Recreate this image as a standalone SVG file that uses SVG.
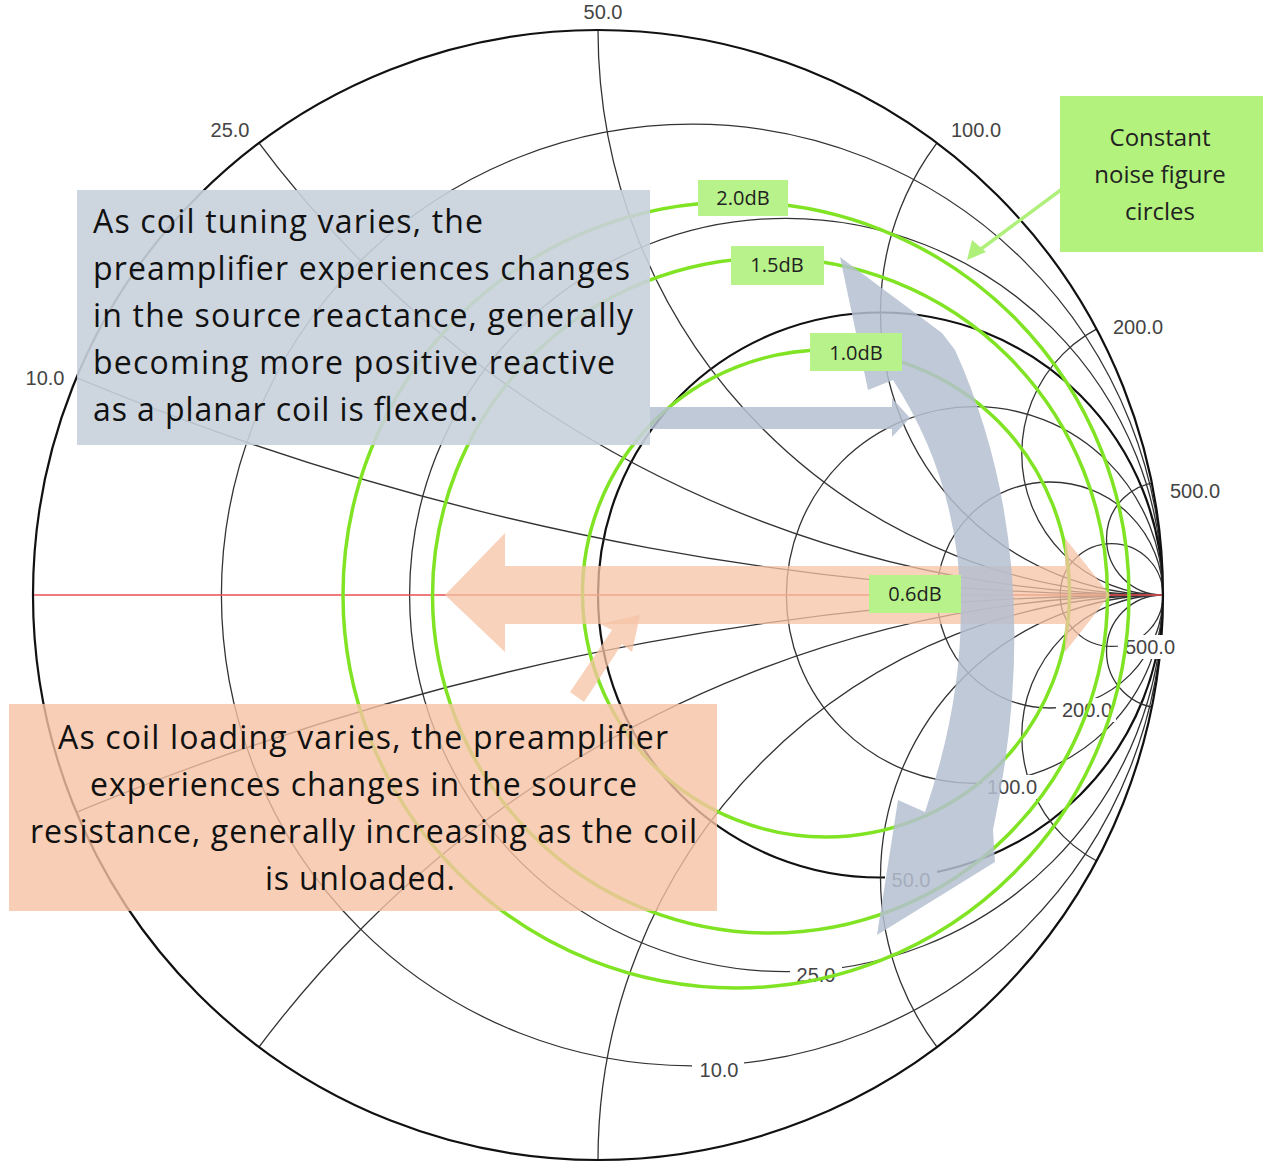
<svg xmlns="http://www.w3.org/2000/svg" width="1270" height="1170" viewBox="0 0 1270 1170">
<style>
.g{fill:none;stroke:#333;stroke-width:1.3}
.k{fill:none;stroke:#111;stroke-width:2.2}
.nf{fill:none;stroke:#80e424;stroke-width:3.5}
.lab{font-family:"Liberation Sans",Arial,sans-serif;font-size:20px;fill:#444}
.big{font-family:"Open Sans","Liberation Sans",sans-serif;font-size:32px;fill:#111}
.db{font-family:"Open Sans","Liberation Sans",sans-serif;font-size:20px;fill:#222;text-anchor:middle}
.tag{fill:#b8f28a}
</style>
<defs>
<clipPath id="sc"><circle cx="598" cy="595" r="565"/></clipPath>
</defs>
<rect width="1270" height="1170" fill="#fff"/>
<g id="chart">
<g clip-path="url(#sc)">
<circle class="g" cx="692.2" cy="595" r="470.8"/>
<circle class="g" cx="786.3" cy="595" r="376.7"/>
<circle class="k" cx="880.5" cy="595" r="282.5"/>
<circle class="g" cx="974.7" cy="595" r="188.3"/>
<circle class="g" cx="1050" cy="595" r="113"/>
<circle class="g" cx="1111.6" cy="595" r="51.4"/>
<circle class="g" cx="1163" cy="-2230" r="2825"/>
<circle class="g" cx="1163" cy="3420" r="2825"/>
<circle class="g" cx="1163" cy="-535" r="1130"/>
<circle class="g" cx="1163" cy="1725" r="1130"/>
<circle class="g" cx="1163" cy="30" r="565"/>
<circle class="g" cx="1163" cy="1160" r="565"/>
<circle class="g" cx="1163" cy="312.5" r="282.5"/>
<circle class="g" cx="1163" cy="877.5" r="282.5"/>
<circle class="g" cx="1163" cy="453.75" r="141.25"/>
<circle class="g" cx="1163" cy="736.25" r="141.25"/>
<circle class="g" cx="1163" cy="538.5" r="56.5"/>
<circle class="g" cx="1163" cy="651.5" r="56.5"/>
</g>
<line x1="33" y1="595" x2="1163" y2="595" stroke="#e85050" stroke-width="1.5"/>
<circle class="k" cx="598" cy="595" r="565"/>
<g fill="#fff">
<rect x="692" y="1058" width="52" height="24"/>
<rect x="790" y="963" width="52" height="24"/>
<rect x="885" y="868" width="52" height="24"/>
<rect x="982" y="775" width="60" height="24"/>
<rect x="1056" y="698" width="60" height="24"/>
<rect x="1118" y="635" width="60" height="24"/>
</g>
<g class="lab">
<text x="603" y="19" text-anchor="middle">50.0</text>
<text x="230" y="137" text-anchor="middle">25.0</text>
<text x="976" y="137" text-anchor="middle">100.0</text>
<text x="1138" y="334" text-anchor="middle">200.0</text>
<text x="45" y="385" text-anchor="middle">10.0</text>
<text x="1195" y="498" text-anchor="middle">500.0</text>
<text x="1150" y="654" text-anchor="middle">500.0</text>
<text x="1087" y="717" text-anchor="middle">200.0</text>
<text x="1012" y="794" text-anchor="middle">100.0</text>
<text x="911" y="887" text-anchor="middle">50.0</text>
<text x="816" y="982" text-anchor="middle">25.0</text>
<text x="719" y="1077" text-anchor="middle">10.0</text>
</g>
</g>
<g id="noise-circles">
<circle class="nf" cx="736" cy="595" r="393"/>
<circle class="nf" cx="770" cy="595.5" r="337.5"/>
<circle class="nf" cx="826" cy="593.5" r="243.5"/>
</g>
<g id="connectors">
<path d="M505,533 L445,595 L505,652 L505,624 L1065,624 L1065,652 L1110,595 L1065,538 L1065,566 L505,566 Z" fill="#f6c3a4" opacity="0.75"/>
<path d="M570,692 L612,630 L600,624 L640,615 L632,652 L622,644 L584,702 Z" fill="#f6c3a4" opacity="0.75"/>
<path d="M840,257 L942,333 L955,350 Q1050,560 993,830 L995,862 L877,935 L898,800 L925,812 Q1010,560 893,380 L868,390 Z" fill="#b5bfd0" opacity="0.85"/>
<path d="M650,407 L892,407 L892,398 L910,418 L892,437 L892,429 L650,429 Z" fill="#b5bfd0" opacity="0.85"/>
<path d="M1085,172 L977,252" stroke="#aef07a" stroke-width="3.5" fill="none"/>
<path d="M967,260 L972,240 L986,252 Z" fill="#aef07a"/>
</g>
<g id="db-labels">
<rect class="tag" x="698" y="180" width="90" height="36"/><text class="db" x="743" y="205">2.0dB</text>
<rect class="tag" x="731" y="246" width="93" height="39"/><text class="db" x="777" y="272">1.5dB</text>
<rect class="tag" x="810" y="333" width="92" height="38"/><text class="db" x="856" y="360">1.0dB</text>
<rect class="tag" x="869" y="575" width="92" height="38"/><text class="db" x="915" y="601">0.6dB</text>
</g>
<g id="tuning-note">
<rect x="77" y="190" width="573" height="255" fill="#c8d0dc" opacity="0.9"/>
<g class="big">
<text x="93" y="233" textLength="390">As coil tuning varies, the</text>
<text x="93" y="280" textLength="537">preamplifier experiences changes</text>
<text x="93" y="327" textLength="540">in the source reactance, generally</text>
<text x="93" y="374" textLength="522">becoming more positive reactive</text>
<text x="93" y="421" textLength="385">as a planar coil is flexed.</text>
</g>
</g>
<g id="loading-note">
<rect x="9" y="704" width="708" height="207" fill="#f6c3a4" opacity="0.8"/>
<g class="big">
<text x="58" y="749" textLength="610">As coil loading varies, the preamplifier</text>
<text x="90" y="796" textLength="547">experiences changes in the source</text>
<text x="30" y="843" textLength="667">resistance, generally increasing as the coil</text>
<text x="265" y="890" textLength="190">is unloaded.</text>
</g>
</g>
<g id="legend">
<rect x="1060" y="96" width="203" height="156" fill="#b3f27c"/>
<g class="db" style="font-size:24px">
<text x="1160" y="146">Constant</text>
<text x="1160" y="183">noise figure</text>
<text x="1160" y="220">circles</text>
</g>
</g>
</svg>
